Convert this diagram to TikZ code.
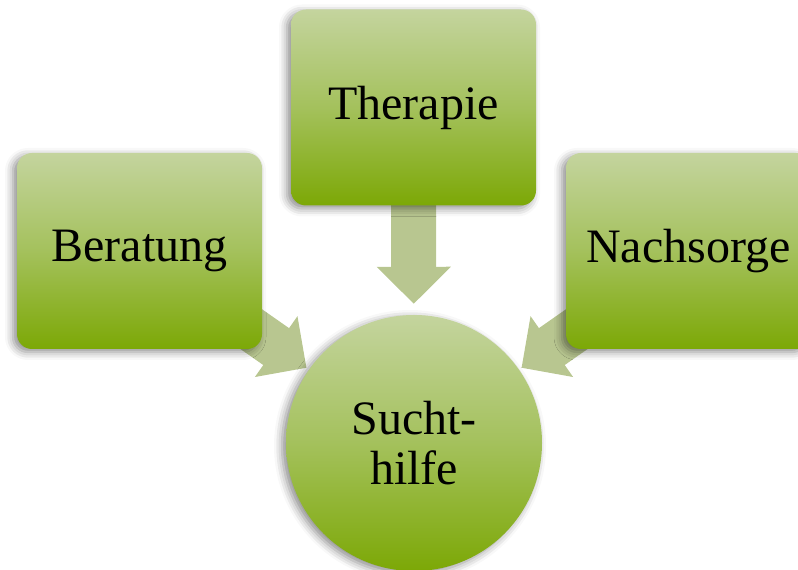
\documentclass[tikz,border=0pt]{standalone}
\usepackage{fontspec}
\setmainfont{Liberation Serif}
\usetikzlibrary{shadows.blur,arrows.meta}
\definecolor{boxtop}{RGB}{196,212,158}
\definecolor{boxmid}{RGB}{164,193,92}
\definecolor{boxbot}{RGB}{124,168,6}
\definecolor{arrowgreen}{RGB}{184,198,144}
\begin{document}
\begin{tikzpicture}[x=1pt,y=1pt,
		box/.style={rounded corners=15pt,minimum width=245pt,minimum height=196pt,
			top color=boxtop,bottom color=boxbot,middle color=boxmid,
			blur shadow={shadow xshift=-4pt,shadow yshift=-3pt,shadow blur radius=8pt,shadow opacity=45},
			font=\fontsize{48}{50}\selectfont},
		hubcircle/.style={circle,minimum size=256pt,inner sep=0pt,
			top color=boxtop,bottom color=boxbot,middle color=boxmid,
			blur shadow={shadow xshift=-4pt,shadow yshift=-3pt,shadow blur radius=8pt,shadow opacity=45},
			font=\fontsize{48}{50}\selectfont,align=center},
		hubarea/.style={circle,minimum size=256pt,inner sep=0pt},
		conn/.style={line width=45pt,arrowgreen,-{Triangle[width=72pt,length=37pt]}}]
		\useasboundingbox (0,0) rectangle (798,570);
		\coordinate (bercenter) at (139.5,319);
		\coordinate (thercenter) at (413.5,462.5);
		\coordinate (nachcenter) at (688.5,319);
		\coordinate (hubcenter) at (414,127);
		\node[hubarea] (hubrim) at (hubcenter) {};
		\draw[conn,shorten >=3pt] (bercenter) -- (hubrim);
		\draw[conn,shorten >=11pt] (thercenter) -- (hubrim);
		\draw[conn,shorten >=3pt] (nachcenter) -- (hubrim);
		\node[box] (ber) at (bercenter) {Beratung};
		\node[box] (ther) at (thercenter) {Therapie};
		\node[box] (nach) at (nachcenter) {Nachsorge};
		\node[hubcircle] (hub) at (hubcenter) {Sucht-\\hilfe};
	\end{tikzpicture}
\end{document}
